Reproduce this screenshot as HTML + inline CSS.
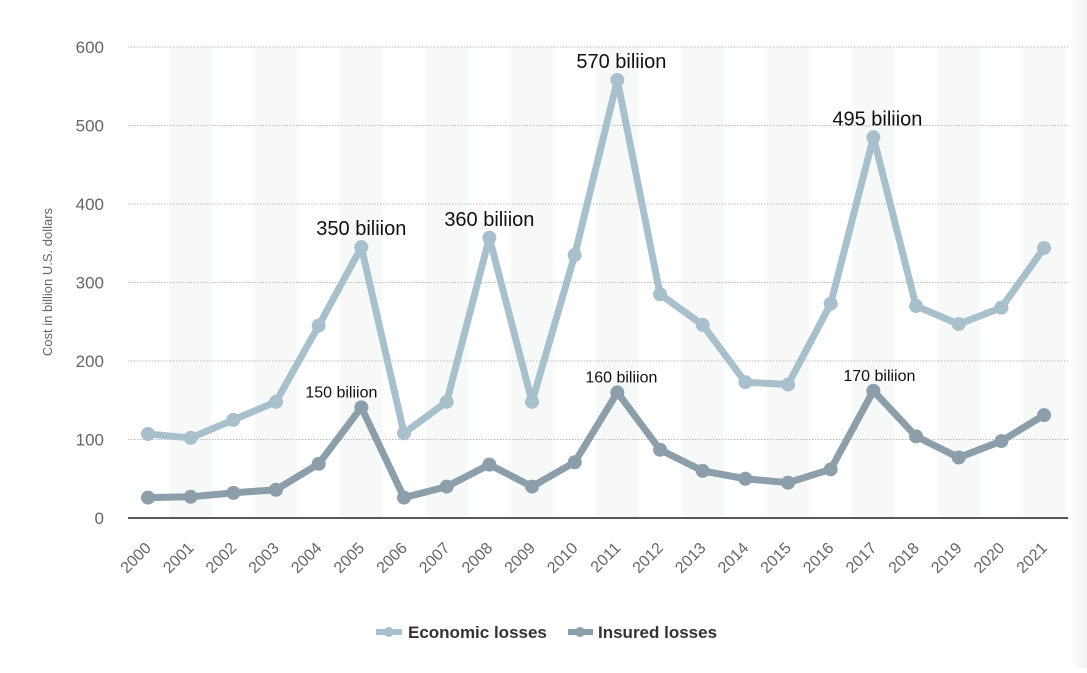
<!DOCTYPE html>
<html><head><meta charset="utf-8"><style>
body{margin:0;background:#fff;width:1087px;height:668px;overflow:hidden;font-family:"Liberation Sans",sans-serif}
</style></head><body>
<svg width="1087" height="668" xmlns="http://www.w3.org/2000/svg">
<defs><linearGradient id="rg" x1="0" x2="1"><stop offset="0" stop-color="#fff"/><stop offset="1" stop-color="#f0f2f4"/></linearGradient></defs>
<rect x="1070" y="0" width="17" height="668" fill="url(#rg)"/>
<g id="bands"></g><g id="grid"></g><g id="axes"></g><g id="series"></g><g id="labels"></g>
<text transform="translate(52,282) rotate(-90)" text-anchor="middle" font-size="13" fill="#666">Cost in billion U.S. dollars</text>
<g font-size="17" font-weight="bold" fill="#333">
<g><line x1="376" y1="632" x2="402" y2="632" stroke="#a8c0cc" stroke-width="6"/><circle cx="389" cy="632" r="5" fill="#a8c0cc"/><text x="408" y="638">Economic losses</text></g>
<g><line x1="568" y1="632" x2="593" y2="632" stroke="#8c9ea9" stroke-width="6"/><circle cx="580" cy="632" r="5" fill="#8c9ea9"/><text x="598" y="638">Insured losses</text></g>
</g>
</svg>
<script>
const years=[2000,2001,2002,2003,2004,2005,2006,2007,2008,2009,2010,2011,2012,2013,2014,2015,2016,2017,2018,2019,2020,2021];
const economic=[107,102,125,148,245,345,108,148,357,148,335,558,285,246,173,170,273,485,270,247,268,344];
const insured=[26,27,32,36,69,141,26,40,68,40,71,160,87,60,50,45,62,162,104,77,98,131];
const yTicks=[0,100,200,300,400,500,600];
const annotations=[{i:5,v:345,t:"350 biliion",s:20,dx:0},{i:8,v:357,t:"360 biliion",s:20,dx:0},{i:11,v:558,t:"570 biliion",s:20,dx:4},{i:17,v:485,t:"495 biliion",s:20,dx:4},{i:5,v:141,t:"150 biliion",s:16,dx:-20},{i:11,v:160,t:"160 biliion",s:16,dx:4},{i:17,v:162,t:"170 biliion",s:16,dx:6}];
const NS="http://www.w3.org/2000/svg";
const x=i=>148+i*42.67, y=v=>518-v*0.785;
function mk(p,tag,a){const e=document.createElementNS(NS,tag);for(const k in a)e.setAttribute(k,a[k]);document.getElementById(p).appendChild(e);return e;}
years.forEach((yr,i)=>{if(i%2==1){const b=mk('bands','rect',{x:x(i)-21,y:47,width:42,height:471,fill:'#f7f8f8'});

}
const t=mk('axes','text',{transform:`translate(${x(i)+4},${549}) rotate(-45)`,'text-anchor':'end','font-size':16,fill:'#666'});t.textContent=yr;

});
yTicks.forEach(v=>{if(v>0){const g=mk('grid','line',{x1:128,x2:1068,y1:y(v),y2:y(v),stroke:'#bbb','stroke-dasharray':'1.5,1.5'});

}
const t=mk('axes','text',{x:104,y:y(v)+6,'text-anchor':'end','font-size':17,fill:'#666'});t.textContent=v;

});
const ax=mk('axes','line',{x1:128,x2:1068,y1:518,y2:518,stroke:'#222','stroke-width':1.5});


[[economic,'#a8c0cc','economic'],[insured,'#8c9ea9','insured']].forEach(([d,c,n])=>{
const l=mk('series','polyline',{points:d.map((v,i)=>x(i)+','+y(v)).join(' '),fill:'none',stroke:c,'stroke-width':7,'stroke-linejoin':'round'});


d.forEach((v,i)=>{const p=mk('series','circle',{cx:x(i),cy:y(v),r:7,fill:c});

});});
annotations.forEach(a=>{const t=mk('labels','text',{x:x(a.i)+a.dx,y:y(a.v)-(a.s>18?12:10),'text-anchor':'middle','font-size':a.s,fill:'#111'});t.textContent=a.t;

});
</script>
</body></html>
